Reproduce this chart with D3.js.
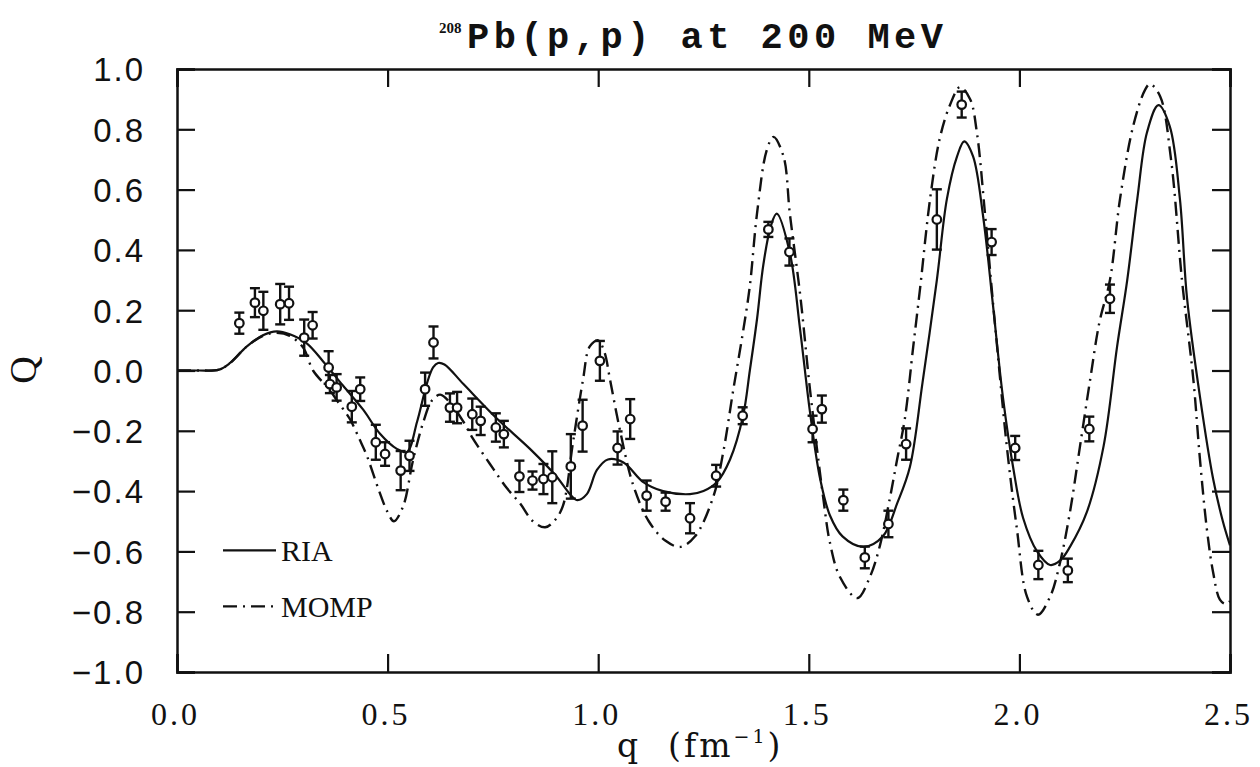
<!DOCTYPE html>
<html>
<head>
<meta charset="utf-8">
<script src="https://cdn.jsdelivr.net/npm/d3@7"></script>
<style>
  body { margin: 0; background: #fff; }
  svg { display: block; }
</style>
</head>
<body>
<svg id="chart" width="1260" height="767"></svg>
<script>
// RIA calculation (solid line): [q, Q]
const riaCurve = [
  [0.00, 0.0], [0.05, 0.0], [0.10, 0.003], [0.126, 0.025], [0.166, 0.08],
  [0.204, 0.117], [0.237, 0.13], [0.268, 0.12], [0.308, 0.09], [0.347, 0.03],
  [0.394, -0.05], [0.442, -0.13], [0.482, -0.21], [0.522, -0.26], [0.546, -0.27],
  [0.57, -0.17], [0.594, -0.04], [0.608, 0.01], [0.62, 0.025], [0.635, 0.02],
  [0.68, -0.045], [0.76, -0.16], [0.838, -0.26], [0.90, -0.35], [0.933, -0.41],
  [0.95, -0.43], [0.973, -0.41], [0.997, -0.33], [1.023, -0.295], [1.06, -0.305],
  [1.107, -0.37], [1.154, -0.40], [1.218, -0.41], [1.25, -0.40], [1.282, -0.37],
  [1.313, -0.295], [1.344, -0.15], [1.36, 0.0], [1.377, 0.17], [1.392, 0.35],
  [1.41, 0.48], [1.424, 0.52], [1.455, 0.39], [1.479, 0.14], [1.503, -0.14],
  [1.527, -0.36], [1.55, -0.48], [1.58, -0.55], [1.63, -0.585], [1.676, -0.55],
  [1.71, -0.44], [1.74, -0.32], [1.77, -0.04], [1.804, 0.30], [1.828, 0.57],
  [1.852, 0.71], [1.869, 0.76], [1.89, 0.71], [1.914, 0.51], [1.937, 0.22],
  [1.961, -0.09], [1.985, -0.32], [2.009, -0.49], [2.042, -0.60], [2.073, -0.645],
  [2.097, -0.63], [2.12, -0.585], [2.16, -0.47], [2.20, -0.25], [2.232, 0.08],
  [2.256, 0.30], [2.28, 0.57], [2.303, 0.79], [2.33, 0.88], [2.357, 0.81],
  [2.381, 0.57], [2.398, 0.24], [2.429, -0.09], [2.46, -0.36], [2.483, -0.50],
  [2.50, -0.58]
];

// MOMP calculation (dash-dot line): [q, Q]
const mompCurve = [
  [0.00, 0.0], [0.05, 0.0], [0.10, 0.003], [0.126, 0.025], [0.166, 0.08],
  [0.204, 0.115], [0.237, 0.125], [0.268, 0.115], [0.30, 0.075], [0.323, 0.0],
  [0.363, -0.065], [0.38, -0.10], [0.41, -0.16], [0.434, -0.23], [0.45, -0.28],
  [0.48, -0.40], [0.50, -0.47], [0.515, -0.50], [0.537, -0.45], [0.56, -0.30],
  [0.585, -0.17], [0.605, -0.10], [0.625, -0.08], [0.65, -0.11], [0.68, -0.17],
  [0.70, -0.22], [0.743, -0.31], [0.783, -0.39], [0.814, -0.44], [0.845, -0.50],
  [0.874, -0.52], [0.895, -0.50], [0.916, -0.45], [0.94, -0.24], [0.964, -0.03],
  [0.98, 0.08], [1.0, 0.10], [1.015, 0.06], [1.028, -0.03], [1.052, -0.20],
  [1.083, -0.38], [1.12, -0.50], [1.16, -0.565], [1.195, -0.585], [1.23, -0.55],
  [1.273, -0.42], [1.297, -0.27], [1.32, -0.07], [1.344, 0.13], [1.36, 0.28],
  [1.377, 0.52], [1.40, 0.73], [1.416, 0.775], [1.44, 0.71], [1.455, 0.52],
  [1.48, 0.245], [1.503, -0.065], [1.535, -0.43], [1.55, -0.57], [1.574, -0.685],
  [1.615, -0.755], [1.645, -0.685], [1.669, -0.58], [1.693, -0.42], [1.709, -0.30],
  [1.728, -0.16], [1.748, 0.08], [1.764, 0.27], [1.788, 0.57], [1.811, 0.77],
  [1.835, 0.88], [1.859, 0.94], [1.883, 0.90], [1.899, 0.79], [1.918, 0.525],
  [1.935, 0.26], [1.947, 0.08], [1.97, -0.25], [1.994, -0.525], [2.018, -0.75],
  [2.044, -0.81], [2.073, -0.75], [2.096, -0.64], [2.12, -0.47], [2.144, -0.25],
  [2.168, -0.03], [2.19, 0.16], [2.215, 0.30], [2.239, 0.57], [2.27, 0.81],
  [2.298, 0.93], [2.31, 0.95], [2.334, 0.91], [2.36, 0.70], [2.386, 0.30],
  [2.413, -0.03], [2.429, -0.30], [2.445, -0.525], [2.46, -0.67], [2.476, -0.76],
  [2.49, -0.775], [2.50, -0.765]
];

// measured points: [q, Q, error]
const dataPoints = [
  [0.148, 0.157, 0.035], [0.185, 0.225, 0.048], [0.205, 0.198, 0.063],
  [0.245, 0.22, 0.067], [0.266, 0.223, 0.055], [0.302, 0.109, 0.06],
  [0.322, 0.15, 0.044], [0.36, 0.01, 0.054], [0.363, -0.045, 0.03],
  [0.379, -0.056, 0.044], [0.415, -0.12, 0.052], [0.435, -0.062, 0.039],
  [0.472, -0.238, 0.058], [0.494, -0.277, 0.039], [0.531, -0.332, 0.065],
  [0.552, -0.283, 0.05], [0.589, -0.062, 0.055], [0.609, 0.093, 0.053],
  [0.648, -0.123, 0.047], [0.665, -0.123, 0.052], [0.701, -0.145, 0.052],
  [0.721, -0.167, 0.047], [0.757, -0.189, 0.047], [0.776, -0.211, 0.044],
  [0.813, -0.351, 0.052], [0.844, -0.365, 0.03], [0.87, -0.36, 0.05],
  [0.891, -0.354, 0.086], [0.935, -0.318, 0.107], [0.963, -0.183, 0.086],
  [1.004, 0.032, 0.066], [1.046, -0.257, 0.055], [1.076, -0.161, 0.066],
  [1.115, -0.415, 0.05], [1.16, -0.435, 0.03], [1.218, -0.49, 0.05],
  [1.28, -0.349, 0.036], [1.343, -0.15, 0.028], [1.404, 0.468, 0.025],
  [1.454, 0.393, 0.045], [1.509, -0.194, 0.044], [1.531, -0.128, 0.045],
  [1.582, -0.43, 0.035], [1.633, -0.62, 0.036], [1.689, -0.509, 0.044],
  [1.731, -0.244, 0.052], [1.804, 0.501, 0.1], [1.863, 0.882, 0.043],
  [1.934, 0.426, 0.043], [1.99, -0.257, 0.04], [2.045, -0.645, 0.047],
  [2.115, -0.663, 0.039], [2.166, -0.194, 0.041], [2.215, 0.238, 0.047]
];

const xTicks = [0.0, 0.5, 1.0, 1.5, 2.0, 2.5];
const yTicks = [1.0, 0.8, 0.6, 0.4, 0.2, 0.0, -0.2, -0.4, -0.6, -0.8, -1.0];

const legendItems = [
  { label: 'RIA', dash: null },
  { label: 'MOMP', dash: '14,6,2,6' }
];

const ink = '#111';
const svg = d3.select('#chart');

// plot frame
const frame = { left: 177, right: 1230, top: 69, bottom: 672 };
const x = d3.scaleLinear().domain([0, 2.5]).range([frame.left, frame.right]);
const y = d3.scaleLinear().domain([-1, 1]).range([frame.bottom, frame.top]);

svg.append('clipPath').attr('id', 'plotclip')
  .append('rect')
  .attr('x', frame.left).attr('y', frame.top)
  .attr('width', frame.right - frame.left).attr('height', frame.bottom - frame.top);

// axes with inward ticks on all four sides
const fmt = d3.format('.1f');
const tickLen = 18;

const bottomAxis = svg.append('g')
  .attr('transform', `translate(0,${frame.bottom})`)
  .call(d3.axisBottom(x).tickValues(xTicks).tickSize(-tickLen).tickFormat(fmt).tickPadding(30));
const topAxis = svg.append('g')
  .attr('transform', `translate(0,${frame.top})`)
  .call(d3.axisTop(x).tickValues(xTicks).tickSize(-tickLen).tickFormat(''));
const leftAxis = svg.append('g')
  .attr('transform', `translate(${frame.left},0)`)
  .call(d3.axisLeft(y).tickValues(yTicks).tickSize(-tickLen).tickFormat(fmt).tickPadding(32));
const rightAxis = svg.append('g')
  .attr('transform', `translate(${frame.right},0)`)
  .call(d3.axisRight(y).tickValues(yTicks).tickSize(-tickLen).tickFormat(''));

[bottomAxis, topAxis, leftAxis, rightAxis].forEach(a => {
  a.select('.domain').attr('stroke', ink).attr('stroke-width', 2.5);
  a.selectAll('.tick line').attr('stroke', ink).attr('stroke-width', 2.2);
});

bottomAxis.selectAll('.tick text')
  .attr('fill', ink)
  .attr('dx', '-2')
  .style('font-family', '"Liberation Serif", "DejaVu Serif", serif')
  .style('font-size', '32px')
  .style('letter-spacing', '3px');

leftAxis.selectAll('.tick text')
  .attr('fill', ink)
  .attr('dy', '0.36em')
  .style('font-family', '"Liberation Sans", Arial, sans-serif')
  .style('font-size', '33px')
  .style('letter-spacing', '2px');

// curves
const line = d3.line()
  .x(d => x(d[0]))
  .y(d => y(d[1]))
  .curve(d3.curveCatmullRom.alpha(0.5));

const plot = svg.append('g').attr('clip-path', 'url(#plotclip)');

plot.append('path')
  .datum(mompCurve)
  .attr('d', line)
  .attr('fill', 'none')
  .attr('stroke', ink)
  .attr('stroke-width', 2.4)
  .attr('stroke-dasharray', legendItems[1].dash);

plot.append('path')
  .datum(riaCurve)
  .attr('d', line)
  .attr('fill', 'none')
  .attr('stroke', ink)
  .attr('stroke-width', 2.2);

// data with error bars
const pts = plot.append('g')
  .selectAll('g')
  .data(dataPoints)
  .join('g');

pts.append('line')
  .attr('x1', d => x(d[0])).attr('x2', d => x(d[0]))
  .attr('y1', d => y(d[1] - d[2])).attr('y2', d => y(d[1] + d[2]))
  .attr('stroke', ink).attr('stroke-width', 2.4);

pts.selectAll('line.cap')
  .data(d => [[d[0], d[1] - d[2]], [d[0], d[1] + d[2]]])
  .join('line')
  .attr('class', 'cap')
  .attr('x1', d => x(d[0]) - 5).attr('x2', d => x(d[0]) + 5)
  .attr('y1', d => y(d[1])).attr('y2', d => y(d[1]))
  .attr('stroke', ink).attr('stroke-width', 2.4);

pts.append('circle')
  .attr('cx', d => x(d[0]))
  .attr('cy', d => y(d[1]))
  .attr('r', 4.3)
  .attr('fill', '#fff')
  .attr('stroke', ink)
  .attr('stroke-width', 2.2);

// legend
const legend = svg.append('g');
legendItems.forEach((item, i) => {
  const ly = y(-0.6) - 1 + i * 56;
  legend.append('line')
    .attr('x1', 223).attr('x2', 276)
    .attr('y1', ly).attr('y2', ly)
    .attr('stroke', ink).attr('stroke-width', 2.2)
    .attr('stroke-dasharray', item.dash);
  legend.append('text')
    .attr('x', 281).attr('y', ly + 11)
    .attr('fill', ink)
    .style('font-family', '"Liberation Serif", "DejaVu Serif", serif')
    .style('font-size', '30px')
    .text(item.label);
});

// title
svg.append('text')
  .attr('x', 439).attr('y', 33)
  .attr('fill', ink)
  .style('font-family', '"Liberation Serif", "DejaVu Serif", serif')
  .style('font-size', '15px')
  .style('font-weight', 'bold')
  .text('208');
svg.append('text')
  .attr('x', 467).attr('y', 48)
  .attr('fill', ink)
  .attr('textLength', 476)
  .attr('lengthAdjust', 'spacing')
  .style('font-family', '"Liberation Mono", "DejaVu Sans Mono", monospace')
  .style('font-size', '37px')
  .style('font-weight', 'bold')
  .text('Pb(p,p) at 200 MeV');

// axis labels
const xLabel = svg.append('text')
  .attr('x', 617).attr('y', 757)
  .attr('fill', ink)
  .style('font-family', '"DejaVu Serif", "Liberation Serif", serif')
  .style('font-size', '33px')
  .style('letter-spacing', '3px');
xLabel.append('tspan').text('q\u00a0\u00a0(fm');
xLabel.append('tspan').attr('dy', -14).style('font-size', '19px').text('−1');
xLabel.append('tspan').attr('dy', 14).text(')');

svg.append('text')
  .attr('transform', 'translate(36,370) rotate(-90)')
  .attr('text-anchor', 'middle')
  .attr('fill', ink)
  .style('font-family', '"Liberation Serif", "DejaVu Serif", serif')
  .style('font-size', '38px')
  .text('Q');
</script>
</body>
</html>
